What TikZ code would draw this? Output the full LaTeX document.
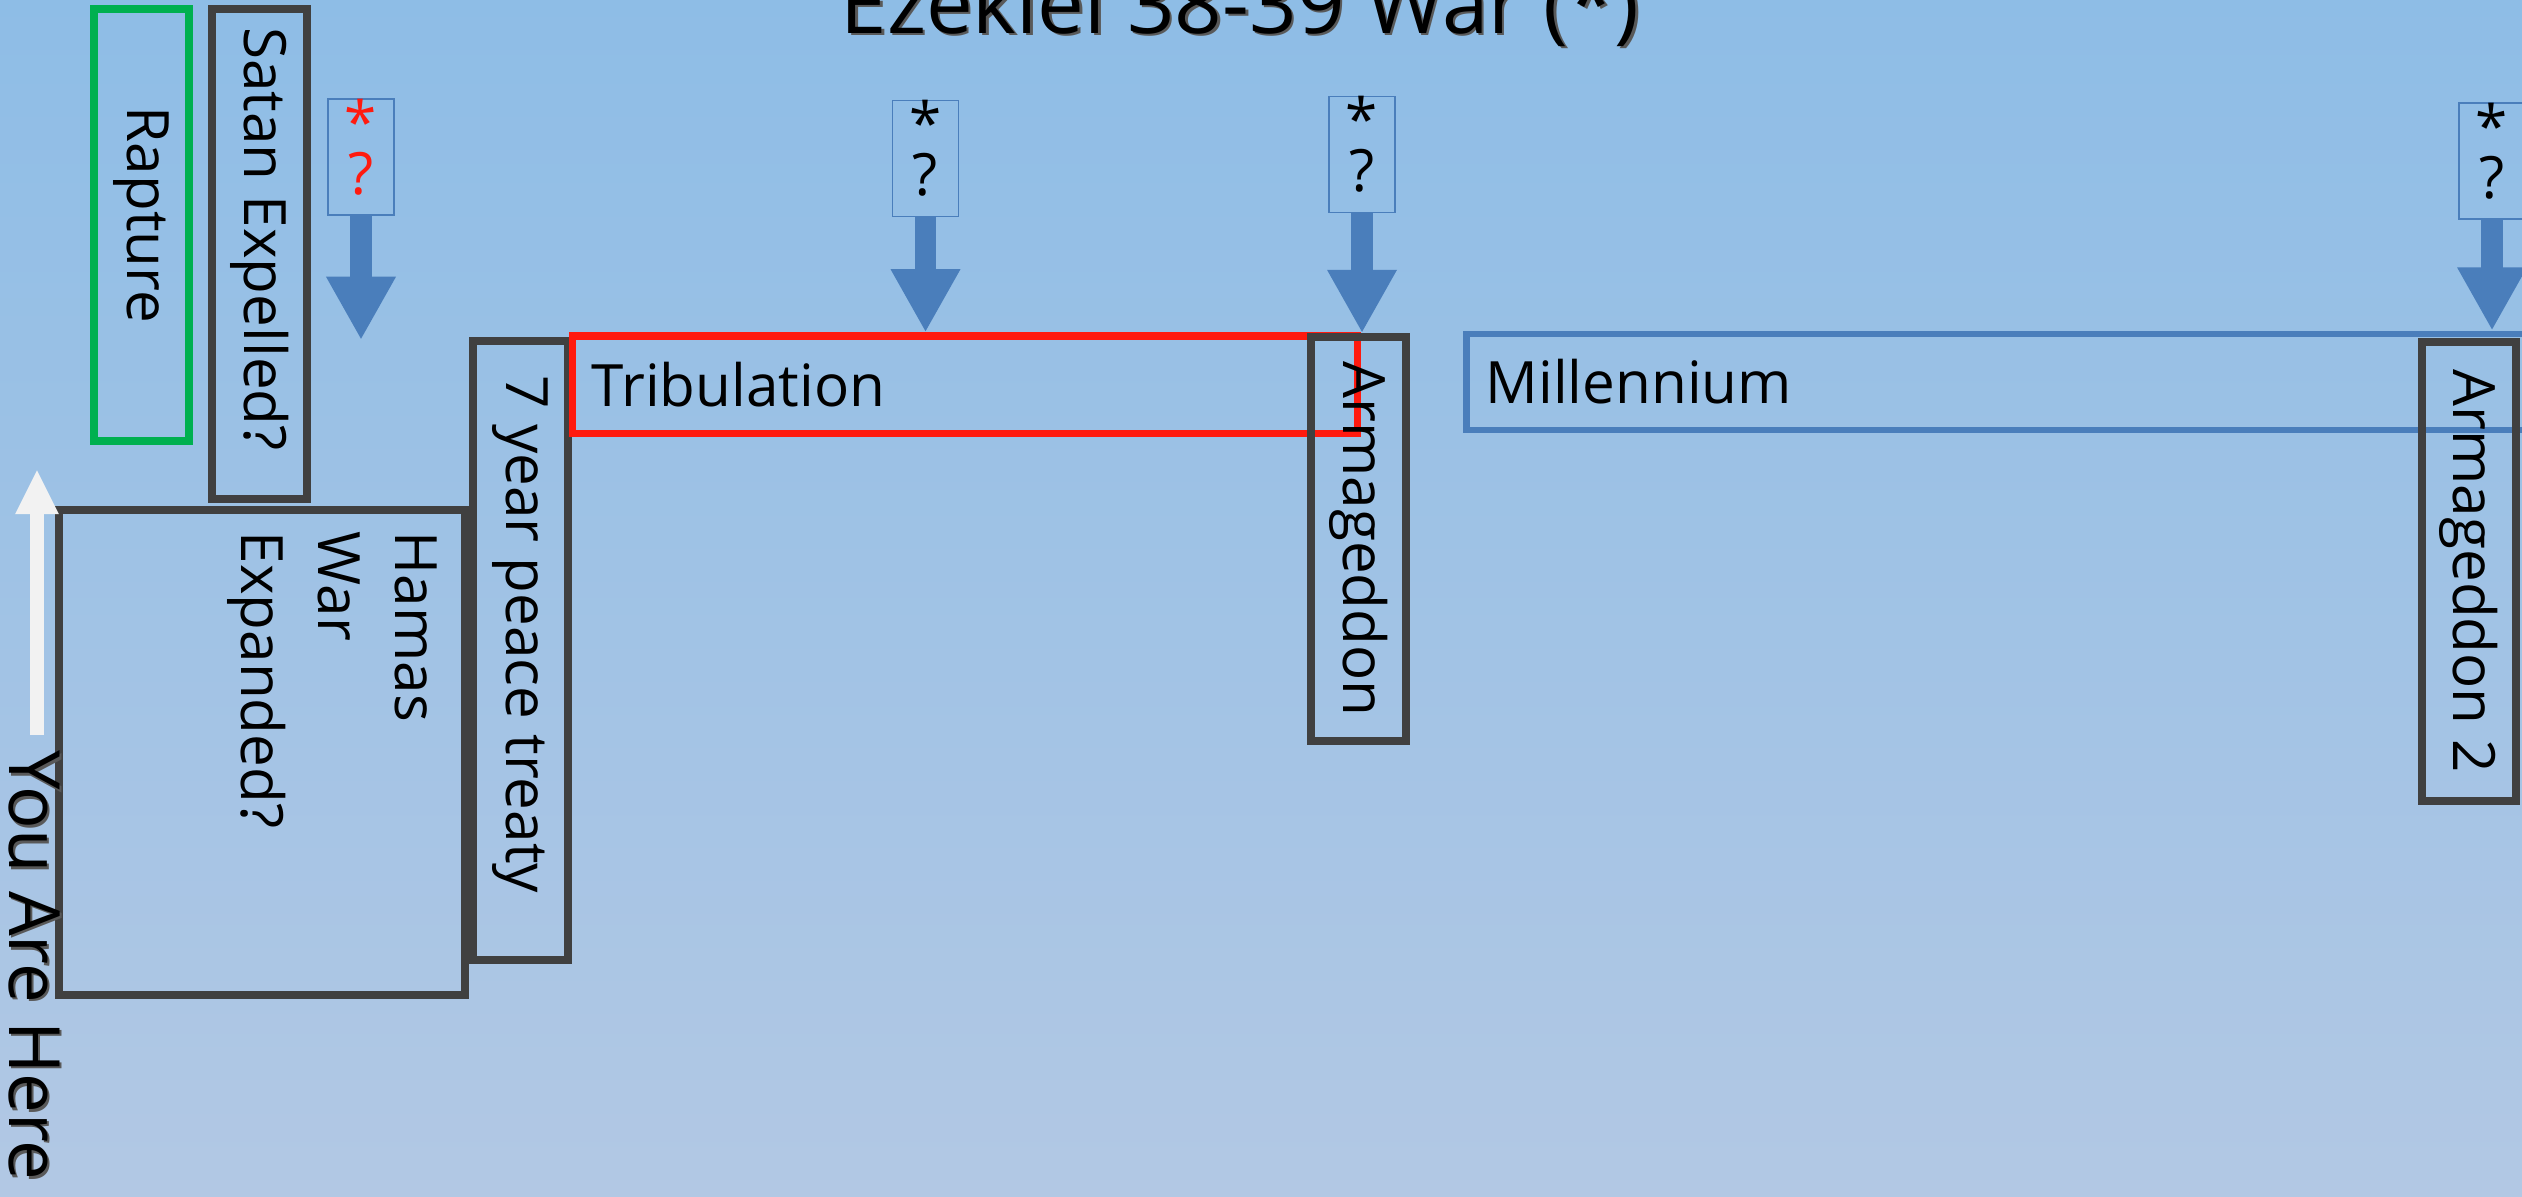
\documentclass[tikz,border=0pt]{standalone}
\usepackage{fontspec}
\setmainfont{Open Sans}
\usepackage{tikz}
\usetikzlibrary{arrows.meta}

\definecolor{boxgray}{HTML}{404040}
\definecolor{rapgreen}{HTML}{00B050}
\definecolor{tribred}{HTML}{FF1A0F}
\definecolor{qblue}{HTML}{4A7EBB}
\definecolor{herewhite}{HTML}{F2F2F2}
\definecolor{bgtop}{HTML}{8EBDE6}
\definecolor{bgbot}{HTML}{B2C8E4}
\newcommand\boxfont{\fontsize{16.6}{21.9}\selectfont}

\begin{document}
\begin{tikzpicture}[x=0.01cm, y=-0.01cm,
    tbox/.style={draw=boxgray, line width=2.15pt, rotate=-90, inner sep=0pt, font=\boxfont},
    periodbar/.style={line width=2pt, inner xsep=0.19cm, inner ysep=0pt, align=left, font=\boxfont},
    qbox/.style={draw=qblue, line width=0.45pt, minimum width=0.66cm, minimum height=1.16cm, inner sep=0pt, align=center, text depth=0.21cm, font=\fontsize{16.6}{14.5}\selectfont},
    drop/.style={draw=qblue, line width=6pt, -{Triangle[width=18.5pt, length=18pt]}},
    txtshade/.style={text=black!65, inner sep=0pt}]
    \useasboundingbox (0,0) rectangle (2522,1196);
    \shade[top color=bgtop, bottom color=bgbot] (0,0) rectangle (2522,1196);

    \node (rapture) [tbox, draw=rapgreen, minimum width=4.32cm, minimum height=0.95cm] at (141.5,225) {Rapture\hspace*{0.2cm}};
    \node (satan) [tbox, minimum width=4.90cm, minimum height=0.95cm] at (259.5,254) {Satan Expelled?\hspace*{0.3cm}};
    \node (hamas) [tbox, minimum width=4.85cm, minimum height=4.06cm] at (262,752.5) {};
    \node (hamastxt) [rotate=-90, anchor=north west, align=left, inner sep=0pt, font=\boxfont] at (438,531) {Hamas\\War\\Expanded?};
    \node (treaty) [tbox, minimum width=6.19cm, minimum height=0.95cm] at (520.5,650.5) {7 year peace treaty\hspace*{0.32cm}};
    \node (trib) [periodbar, draw=tribred, text width=7.46cm, minimum height=0.97cm] at (965,384.5) {Tribulation};
    \node (armA) [tbox, minimum width=4.04cm, minimum height=0.95cm] at (1358.5,539) {Armageddon};
    \node (millen) [periodbar, draw=qblue, line width=1.9pt, text width=10.95cm, minimum height=0.96cm] at (2033.5,382) {Millennium};
    \node (armB) [tbox, minimum width=4.59cm, minimum height=0.94cm] at (2469,571.5) {Armageddon 2};

    \node (q1) [qbox, text=tribred] at (361,157) {*\\?};
    \node (q2) [qbox] at (925.5,158.5) {*\\?};
    \node (q3) [qbox] at (1362,154.5) {*\\?};
    \node (q4) [qbox] at (2492,161) {*\\?};
    \coordinate (t1) at (361,340);
    \draw[drop] (q1.south) -- (t1);
    \draw[drop] (q2.south) -- (q2.south |- trib.north);
    \draw[drop] (q3.south) -- (q3.south |- armA.west);
    \draw[drop] (q4.south) -- (q4.south |- millen.north);

    \node (titleshade) [txtshade, anchor=base, font=\fontsize{23.7}{28}\selectfont] at (1242.5,35.5) {Ezekiel 38-39 War (*)};
    \node (title) [anchor=base, inner sep=0pt, font=\fontsize{23.7}{28}\selectfont] at (1240,33) {Ezekiel 38-39 War (*)};

    \coordinate (herebot) at (37,735);
    \coordinate (heretop) at (37,469);
    \draw[draw=herewhite, line width=4pt, -{Triangle[width=11.4pt, length=12.8pt]}] (herebot) -- (heretop);
    \node (hereshade) [txtshade, rotate=-90, anchor=base west, font=\fontsize{20.1}{24}\selectfont] at (11.5,752.5) {You Are Here};
    \node (here) [rotate=-90, anchor=base west, inner sep=0pt, font=\fontsize{20.1}{24}\selectfont] at (9,750) {You Are Here};
\end{tikzpicture}
\end{document}
